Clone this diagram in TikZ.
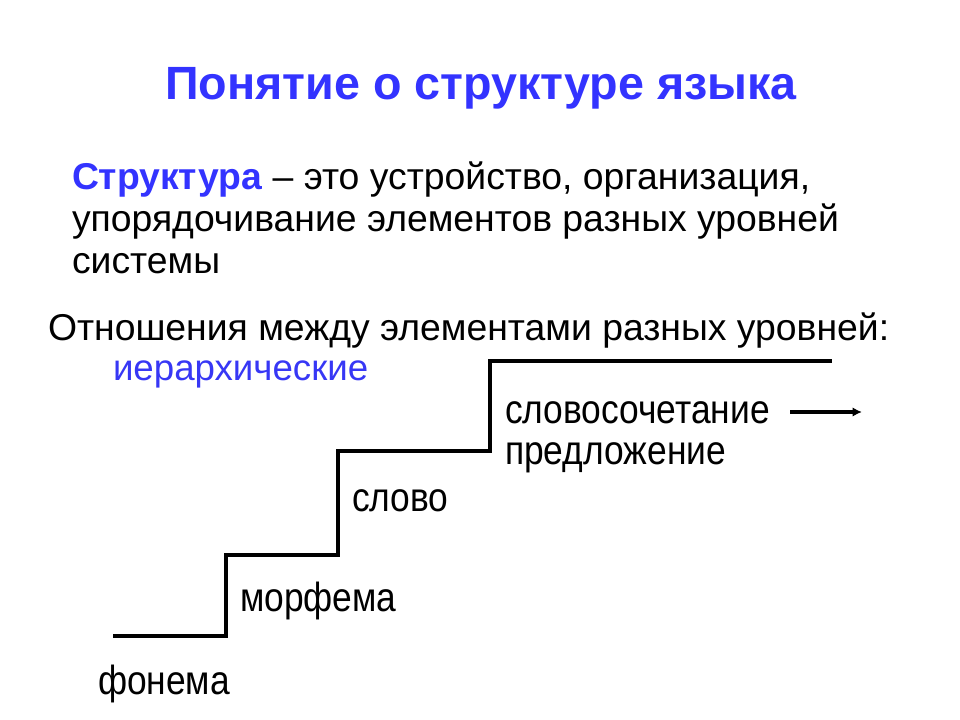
\documentclass[tikz,border=0pt]{standalone}
\usepackage{fontspec}
\setmainfont{Liberation Sans}
\usepackage{tikz}
\usetikzlibrary{positioning,arrows.meta}
\definecolor{TitleBlue}{RGB}{51,51,255}
\definecolor{TermBlue}{RGB}{55,55,245}
\newcommand{\lvltext}[1]{\scalebox{0.87}[1]{#1}}

\begin{document}
\begin{tikzpicture}[x=0.75pt,y=-0.75pt,
  every node/.style={inner sep=0pt,outer sep=0pt,anchor=base west},
  lvl/.style={font=\fontsize{30.5}{34}\selectfont},
  body/.style={font=\fontsize{28}{32}\selectfont}]
\useasboundingbox (0,0) rectangle (960,720);
% title
\node[anchor=base,font=\fontsize{35}{40}\selectfont\bfseries,text=TitleBlue] (title) at (481,100) {Понятие о структуре языка};
% definition
\node[body] (def1) at (72,190) {\textcolor{TitleBlue}{\textbf{Структура}} -- это устройство, организация,};
\node[body] (def2) at (72,232) {упорядочивание элементов разных уровней};
\node[body] (def3) at (72,274) {системы};
\node[body] (rel) at (48,340) {Отношения между элементами разных уровней:};
\node[font=\fontsize{27.5}{31}\selectfont,text=TermBlue] (hier) at (113,380) {иерархические};
% staircase
\coordinate (s0) at (113,636);
\coordinate (s1) at (226,636);
\coordinate (s2) at (226,555);
\coordinate (s3) at (338,555);
\coordinate (s4) at (338,451);
\coordinate (s5) at (490,451);
\coordinate (s6) at (490,361);
\coordinate (s7) at (832,361);
\draw[line width=3pt] (s0) -- (s1) -- (s2) -- (s3) -- (s4) -- (s5) -- (s6) -- (s7);
% levels
\node[lvl] (phon) at (98,694) {\lvltext{фонема}};
\node[lvl] (morph) at (240,611) {\lvltext{морфема}};
\node[lvl] (word) at (352,511) {\lvltext{слово}};
\node[lvl] (phrase) at (505,423) {\lvltext{словосочетание}};
\node[lvl] (sent) at (505,464) {\lvltext{предложение}};
\coordinate (a0) at (790,412);
\coordinate (a1) at (862,412);
\draw[line width=2.6pt,-{Latex[length=7pt,width=7pt]}] (a0) -- (a1);
\end{tikzpicture}
\end{document}
